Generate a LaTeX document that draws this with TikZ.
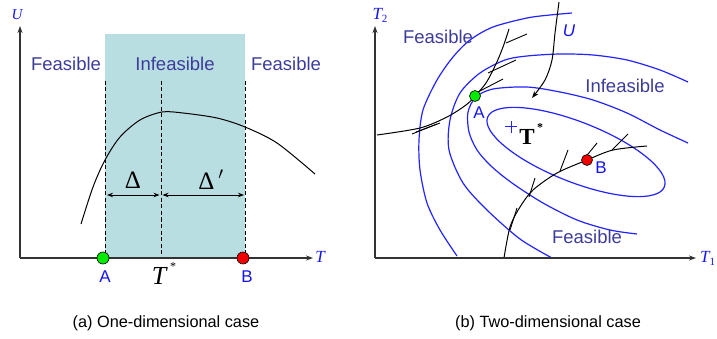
\documentclass[tikz,border=0pt]{standalone}
\usepackage{fontspec}
\setmainfont{Liberation Sans}
\newfontfamily\seriffont{Liberation Serif}
\usetikzlibrary{arrows.meta}
\definecolor{feas}{RGB}{60,60,155}
\definecolor{shadecol}{RGB}{185,222,225}
\definecolor{cont}{RGB}{35,35,255}
\definecolor{lbl}{RGB}{20,20,240}
\definecolor{dotgreen}{RGB}{0,235,0}
\definecolor{dotred}{RGB}{240,0,0}
\tikzset{
  axis/.style={black!80, line width=1.3pt, -{Stealth[length=7pt,width=5pt]}},
  region/.style={text=feas, font=\fontsize{18.5}{20}\selectfont, inner sep=0pt},
  ptlabel/.style={text=lbl, font=\fontsize{17}{19}\selectfont, inner sep=0pt},
  axlabel/.style={text=lbl, font=\fontsize{17}{19}\selectfont\seriffont\itshape, inner sep=0pt},
  caption/.style={font=\fontsize{16.3}{18}\selectfont, inner sep=0pt},
  contour/.style={cont, line width=1.2pt},
  curve/.style={black, line width=1pt},
  branch/.style={black, line width=0.9pt},
  guide/.style={black, dashed, dash pattern=on 4pt off 2.5pt, line width=0.8pt},
  darrow/.style={black, line width=0.9pt, {Stealth[length=6pt,width=4.5pt]}-{Stealth[length=6pt,width=4.5pt]}},
  dot/.style={circle, draw=black, line width=0.6pt, minimum size=12pt, inner sep=0pt},
  dotsmall/.style={dot, minimum size=11pt}
}
\begin{document}
\begin{tikzpicture}[x=1pt,y=-1pt]
\useasboundingbox (0,0) rectangle (717,339);
% ---------------- left panel ----------------
\fill[shadecol] (105,34) rectangle (245,258);
\coordinate (O1) at (20,258);
\coordinate (Y1) at (20,26);
\coordinate (X1) at (313,258);
\coordinate (gA1) at (105,81); \coordinate (gA2) at (105,258);
\coordinate (gT1) at (161,81); \coordinate (gT2) at (161,258);
\coordinate (gB1) at (245,81); \coordinate (gB2) at (245,258);
\draw[guide] (gA1) -- (gA2);
\draw[guide] (gT1) -- (gT2);
\draw[guide] (gB1) -- (gB2);
\draw[curve] plot[smooth] coordinates {(81,224) (93,187) (105,160) (120,137) (140,120) (162,112) (183,113) (217,118) (245,127) (277,143) (315,174)};
\coordinate (d1) at (107,195); \coordinate (d2) at (159.5,195);
\coordinate (d3) at (162.5,195); \coordinate (d4) at (244,195);
\draw[darrow] (d1) -- (d2);
\draw[darrow] (d3) -- (d4);
\node[font=\fontsize{25}{27}\selectfont\seriffont, inner sep=0pt] (Dl) at (133,180) {Δ};
\node[font=\fontsize{25}{27}\selectfont\seriffont, inner sep=0pt] (Dr) at (211,180) {Δ\,\raisebox{1pt}{$'$}};
\draw[axis] (O1) -- (Y1);
\draw[axis] (O1) -- (X1);
\node[axlabel, font=\fontsize{15}{17}\selectfont\seriffont\itshape] (U1) at (17,15) {U};
\node[axlabel] (T1ax) at (320,257) {T};
\node[region] (f1) at (66,64) {Feasible};
\node[region] (i1) at (175,64) {Infeasible};
\node[region] (f2) at (286,64) {Feasible};
\node[dot, fill=dotgreen] (A1) at (103,258) {};
\node[dot, fill=dotred] (B1) at (243,258) {};
\node[ptlabel] (lA1) at (105,277) {A};
\node[ptlabel] (lB1) at (247,277) {B};
\node[font=\fontsize{26}{28}\selectfont\seriffont\itshape, inner sep=0pt] (Tst) at (159,276) {T};
\node[font=\fontsize{12}{12}\selectfont\seriffont, inner sep=0pt] (Tstar) at (173,267) {*};
\node[caption] (capa) at (166,323) {(a) One-dimensional case};
% ---------------- right panel ----------------
\coordinate (O2) at (375,258);
\coordinate (Y2) at (375,26);
\coordinate (X2) at (696,258);
\draw[contour, rotate around={-21.5:(576,152)}] (576,152) ellipse [x radius=95, y radius=30];
\draw[contour] plot[smooth] coordinates {(688,143) (660,130) (627,113) (593,100) (560,92) (527,87) (493,89) (476,97) (468,112) (469,132) (477,150) (491,166) (512,183) (543,203) (577,220) (610,230) (637,234)};
\draw[contour] plot[smooth] coordinates {(688,82) (660,70) (627,60) (593,55) (560,54) (527,56) (505,60) (480,73) (460,93) (450,120) (449,150) (463,183) (487,210) (520,239) (552,258)};
\draw[contour] plot[smooth] coordinates {(572,13) (550,15) (527,18) (493,27) (470,40) (453,57) (437,80) (423,110) (419,140) (420,170) (427,203) (440,230) (457,256)};
% constraint through A
\draw[curve] plot[smooth] coordinates {(377,135) (420,128) (447,117) (466,105) (475,96) (486,83) (496,64) (503,47) (509,29)};
\coordinate (a1s) at (412,134); \coordinate (a1e) at (437,124);
\coordinate (a2s) at (416,132); \coordinate (a2e) at (440,123);
\coordinate (a3s) at (478,92); \coordinate (a3e) at (503,79);
\coordinate (a4s) at (488,73); \coordinate (a4e) at (516,60);
\coordinate (a5s) at (506,43); \coordinate (a5e) at (527,34);
\draw[branch] (a1s) -- (a1e);
\draw[branch] (a2s) -- (a2e);
\draw[branch] (a3s) -- (a3e);
\draw[branch] (a4s) -- (a4e);
\draw[branch] (a5s) -- (a5e);
% constraint through B
\draw[curve] plot[smooth] coordinates {(504,258) (510,227) (520,207) (533,190) (557,173) (587,160) (613,150) (647,146)};
\coordinate (b1s) at (510,230); \coordinate (b1e) at (517,208);
\coordinate (b2s) at (529,197); \coordinate (b2e) at (535,178);
\coordinate (b3s) at (560,171); \coordinate (b3e) at (568,150);
\coordinate (b4s) at (584,159); \coordinate (b4e) at (597,143);
\coordinate (b5s) at (612,150); \coordinate (b5e) at (628,134);
\draw[branch] (b1s) -- (b1e);
\draw[branch] (b2s) -- (b2e);
\draw[branch] (b3s) -- (b3e);
\draw[branch] (b4s) -- (b4e);
\draw[branch] (b5s) -- (b5e);
% U arrow
\draw[curve, -{Stealth[length=7pt,width=5pt]}] plot[smooth] coordinates {(559,2) (555,33) (552,60) (545,80) (532,98)};
\node[ptlabel, font=\fontsize{17}{19}\selectfont\itshape] (U2) at (569,31) {U};
% plus and T*
\coordinate (p1) at (505,127); \coordinate (p2) at (517,127);
\coordinate (p3) at (511,121); \coordinate (p4) at (511,133);
\draw[cont, line width=1pt] (p1) -- (p2);
\draw[cont, line width=1pt] (p3) -- (p4);
\node[font=\fontsize{23}{25}\selectfont\seriffont\bfseries, inner sep=0pt] (Tb) at (527,137) {T};
\node[font=\fontsize{12}{12}\selectfont\seriffont\bfseries, inner sep=0pt] (Tbs) at (540,128) {*};
\draw[axis] (O2) -- (Y2);
\draw[axis] (O2) -- (X2);
\node[axlabel] (T2ax) at (380,15) {T\raisebox{-3pt}{\fontsize{11}{11}\selectfont\upshape 2}};
\node[axlabel, anchor=west] (T1r) at (700,258) {T\raisebox{-3pt}{\fontsize{11}{11}\selectfont\upshape 1}};
\node[region] (f3) at (438,37) {Feasible};
\node[region] (i2) at (625,86) {Infeasible};
\node[region] (f4) at (587,237) {Feasible};
\node[dotsmall, fill=dotgreen] (A2) at (475,96) {};
\node[dotsmall, fill=dotred] (B2) at (587,160) {};
\node[ptlabel] (lA2) at (479,113) {A};
\node[ptlabel] (lB2) at (601,168) {B};
\node[caption] (capb) at (548,323) {(b) Two-dimensional case};
\end{tikzpicture}
\end{document}
